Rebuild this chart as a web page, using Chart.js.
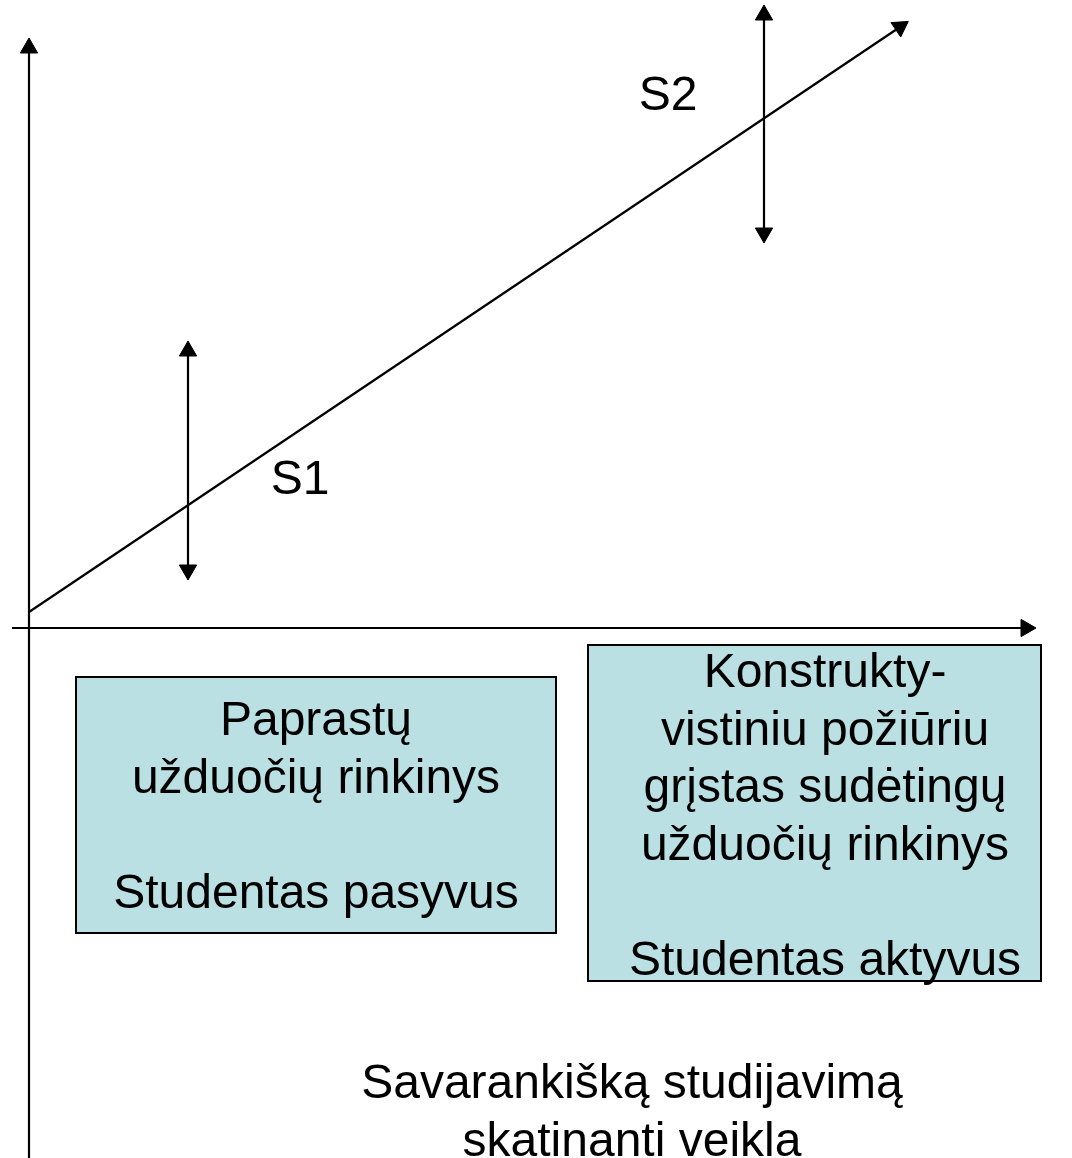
<!DOCTYPE html>
<html>
<head>
<meta charset="utf-8">
<script src="https://cdn.jsdelivr.net/npm/chart.js@4/dist/chart.umd.min.js"></script>
<style>
  body { margin: 0; background: #fff; }
  #wrap { width: 1072px; height: 1158px; position: relative; }
</style>
</head>
<body>
<div id="wrap"><canvas id="diagram"></canvas></div>
<script>
// Diagram data (units: origin where the two axes cross, y up)
const axisY = [{ x: 0, y: -530 }, { x: 0, y: 580 }];
const axisX = [{ x: -17, y: 0 }, { x: 997, y: 0 }];
const trendLine = [{ x: 0, y: 16 }, { x: 871, y: 601 }];
const s1Range = [{ x: 159, y: 58 }, { x: 159, y: 277 }];
const s2Range = [{ x: 735, y: 395 }, { x: 735, y: 613 }];

const pointLabels = ["S1", "S2"];
const pointLabelPos = [{ x: 271, y: 134 }, { x: 639, y: 518 }];

// boxes: [x0, x1, yTop, yBottom]
const boxLeft = [47, 527, -49, -305];
const boxRight = [559, 1012, -17, -353];

const boxLeftLines = ["Paprastų", "užduočių rinkinys", "", "Studentas pasyvus"];
const boxLeftText = { x: 287, y: -107 };
const boxRightLines = ["Konstrukty-", "vistiniu požiūriu", "grįstas sudėtingų", "užduočių rinkinys", "", "Studentas aktyvus"];
const boxRightText = { x: 796, y: -59 };

const bottomLines = ["Savarankišką studijavimą", "skatinanti veikla"];
const bottomText = { x: 603, y: -470 };

const FONT = "48px 'Liberation Sans', Arial, sans-serif";
const LINE_GAP = 57.5;

// draws boxes and text through the chart scales
const diagramPlugin = {
    id: "diagram",
    beforeDatasetsDraw(chart) {
        const ctx = chart.ctx;
        const xs = chart.scales.x, ys = chart.scales.y;
        [boxLeft, boxRight].forEach(b => {
            const x0 = xs.getPixelForValue(b[0]);
            const x1 = xs.getPixelForValue(b[1]);
            const y0 = ys.getPixelForValue(b[2]);
            const y1 = ys.getPixelForValue(b[3]);
            ctx.save();
            ctx.fillStyle = "#bbe0e3";
            ctx.fillRect(x0, y0, x1 - x0, y1 - y0);
            ctx.strokeStyle = "#000";
            ctx.lineWidth = 2;
            ctx.strokeRect(x0, y0, x1 - x0, y1 - y0);
            ctx.restore();
        });
    },
    afterDatasetsDraw(chart) {
        const ctx = chart.ctx;
        const xs = chart.scales.x, ys = chart.scales.y;
        ctx.save();
        ctx.font = FONT;
        ctx.fillStyle = "#000";
        ctx.textAlign = "center";
        ctx.textBaseline = "alphabetic";
        const drawBlock = (lines, pos) => {
            const cx = xs.getPixelForValue(pos.x);
            const cy = ys.getPixelForValue(pos.y);
            lines.forEach((t, i) => ctx.fillText(t, cx, cy + i * LINE_GAP));
        };
        drawBlock(boxLeftLines, boxLeftText);
        drawBlock(boxRightLines, boxRightText);
        drawBlock(bottomLines, bottomText);
        pointLabels.forEach((t, i) => drawBlock([t], pointLabelPos[i]));
        ctx.restore();
    }
};

function arrowSet(data, radii, rotations) {
    return {
        data: data,
        showLine: true,
        borderColor: "#000",
        borderWidth: 2.2,
        pointStyle: "triangle",
        pointRadius: radii,
        pointRotation: rotations,
        pointBackgroundColor: "#000",
        pointBorderColor: "#000",
        pointBorderWidth: 1,
        pointHoverRadius: radii,
        clip: false
    };
}

new Chart(document.getElementById("diagram").getContext("2d"), {
    type: "scatter",
    data: {
        datasets: [
            arrowSet(axisY, [0, 10], [0, 0]),
            arrowSet(axisX, [0, 10], [0, 90]),
            arrowSet(trendLine, [0, 10], [0, 56]),
            arrowSet(s1Range, [10, 10], [180, 0]),
            arrowSet(s2Range, [10, 10], [180, 0])
        ]
    },
    options: {
        responsive: true,
        maintainAspectRatio: false,
        animation: false,
        layout: { padding: 0, autoPadding: false },
        plugins: { legend: { display: false }, tooltip: { enabled: false } },
        scales: {
            x: { type: "linear", min: -29, max: 1043, display: false },
            y: { type: "linear", min: -530, max: 628, display: false }
        }
    },
    plugins: [diagramPlugin]
});
</script>
</body>
</html>
